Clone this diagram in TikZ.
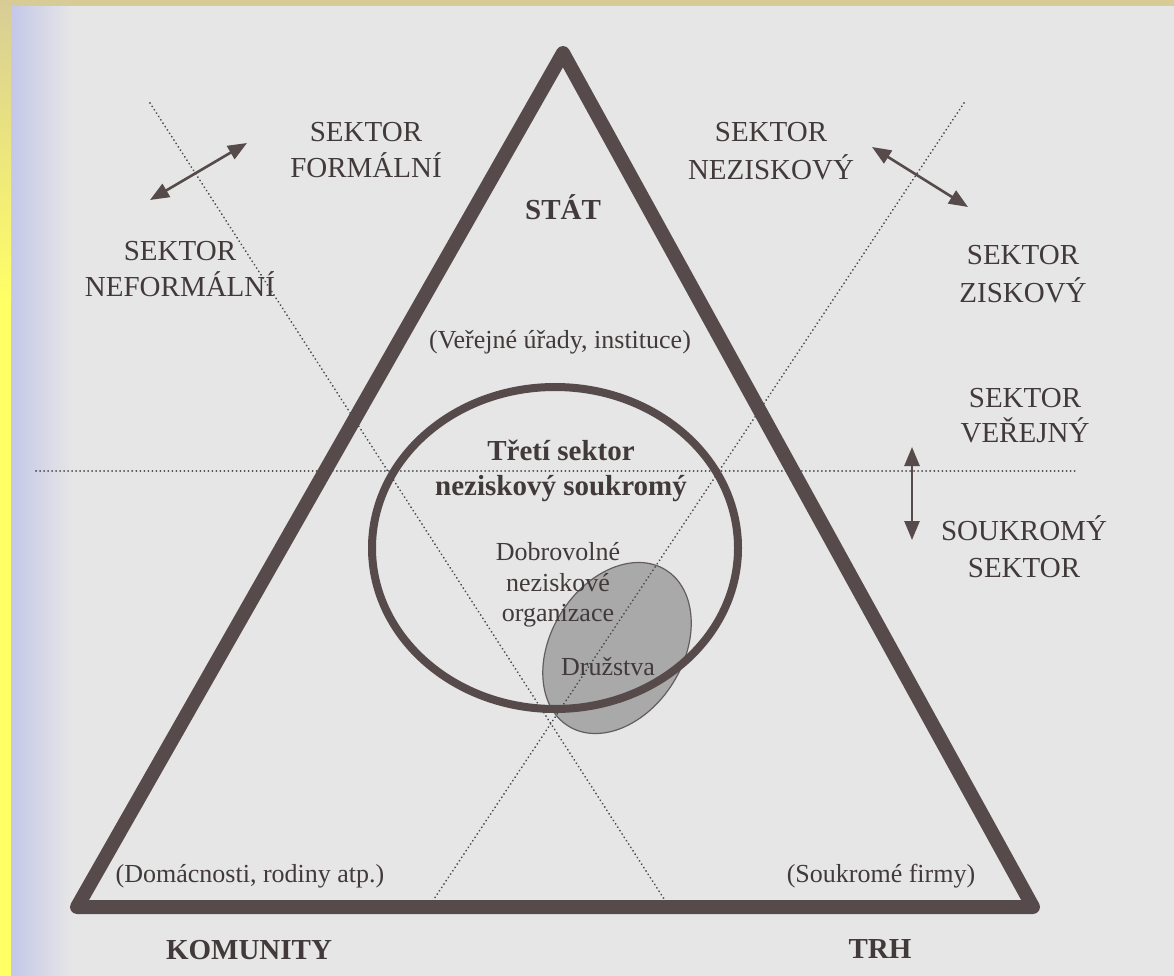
\documentclass[tikz,border=0pt]{standalone}
\usepackage{fontspec}
\setmainfont{Liberation Serif}
\usetikzlibrary{arrows.meta}
\definecolor{bg}{HTML}{E6E6E6}
\definecolor{ink}{HTML}{564A4A}
\definecolor{txt}{HTML}{423A3A}
\definecolor{dotc}{HTML}{4A4848}
\definecolor{khaki}{HTML}{D8CC96}
\definecolor{yel}{HTML}{FFFF66}
\definecolor{blu}{HTML}{C4C8E8}
\definecolor{cellgray}{HTML}{A9A9A9}
\definecolor{cellline}{HTML}{655D5D}
\begin{document}
\begin{tikzpicture}[x=1pt,y=-1pt,
  lab/.style={text=txt, inner sep=0pt, anchor=base, font=\fontsize{29}{35}\selectfont},
  blab/.style={lab, font=\bfseries\fontsize{29}{35}\selectfont},
  plab/.style={lab, font=\fontsize{26}{30}\selectfont},
  dotline/.style={draw=dotc, line width=2pt, dash pattern=on 0.01pt off 4pt, line cap=round},
  dblarrow/.style={draw=ink, line width=2.6pt, {Triangle[length=19pt,width=15pt]}-{Triangle[length=19pt,width=15pt]}}
]
\useasboundingbox (0,0) rectangle (1174,976);
% background and scan borders
\fill[bg] (0,0) rectangle (1174,976);
\shade[left color=blu, right color=bg] (11,0) rectangle (72,976);
\shade[top color=khaki, bottom color=yel] (0,0) rectangle (11,300);
\fill[yel] (0,300) rectangle (11,976);
\fill[khaki] (0,0) rectangle (1174,6);

% coordinates
\coordinate (apex) at (563,53);
\coordinate (bl) at (77,907);
\coordinate (br) at (1033,907);
\coordinate (hL) at (36,471);
\coordinate (hR) at (1075,471);
\coordinate (d1a) at (150,103);
\coordinate (d1b) at (668,905);
\coordinate (d2a) at (964,103);
\coordinate (d2b) at (430,905);
\coordinate (circ) at (555,548);
\coordinate (cell) at (617,648);

% gray ellipse (cooperatives)
\filldraw[fill=cellgray, draw=cellline, line width=1.2pt, rotate around={58:(cell)}]
  (cell) ellipse [x radius=92pt, y radius=66pt];

% dotted dividing lines
\draw[dotline] (hL) -- (hR);
\draw[dotline] (d1a) -- (d1b);
\draw[dotline] (d2a) -- (d2b);

% third sector circle
\draw[ink, line width=8pt] (circ) ellipse [x radius=183pt, y radius=161pt];

% triangle
\draw[ink, line width=14pt, line join=round] (apex) -- (bl) -- (br) -- cycle;

% double arrows
\coordinate (a1a) at (150,200);
\coordinate (a1b) at (247,143);
\coordinate (a2a) at (872,147);
\coordinate (a2b) at (968,207);
\coordinate (a3a) at (912,447);
\coordinate (a3b) at (912,540);
\draw[dblarrow] (a1a) -- (a1b);
\draw[dblarrow] (a2a) -- (a2b);
\draw[dblarrow] (a3a) -- (a3b);

% labels outside
\node[lab] (formal1) at (366,142) {SEKTOR};
\node[lab] (formal2) at (366,178) {FORMÁLNÍ};
\node[lab] (neform1) at (180,260) {SEKTOR};
\node[lab] (neform2) at (180,296) {NEFORMÁLNÍ};
\node[lab] (nezisk1) at (771,142) {SEKTOR};
\node[lab] (nezisk2) at (771,180) {NEZISKOVÝ};
\node[lab] (zisk1) at (1023,265) {SEKTOR};
\node[lab] (zisk2) at (1023,302) {ZISKOVÝ};
\node[lab] (verej1) at (1025,407) {SEKTOR};
\node[lab] (verej2) at (1025,442) {VEŘEJNÝ};
\node[lab] (soukr1) at (1024,540) {SOUKROMÝ};
\node[lab] (soukr2) at (1024,577) {SEKTOR};

% corners
\node[blab] (stat) at (563,220) {STÁT};
\node[blab] (komunity) at (249,959) {KOMUNITY};
\node[blab] (trh) at (880,958) {TRH};
\node[plab] (stat2) at (560,348) {(Veřejné úřady, instituce)};
\node[plab] (kom2) at (250,882) {(Domácnosti, rodiny atp.)};
\node[plab] (trh2) at (881,882) {(Soukromé firmy)};

% inside circle
\node[blab] (treti1) at (561,460) {Třetí sektor};
\node[blab] (treti2) at (561,495) {neziskový soukromý};
\node[plab] (dobr1) at (558,560) {Dobrovolné};
\node[plab] (dobr2) at (558,591) {neziskové};
\node[plab] (dobr3) at (558,621) {organizace};
\node[plab] (druz) at (608,675) {Družstva};
\end{tikzpicture}
\end{document}
